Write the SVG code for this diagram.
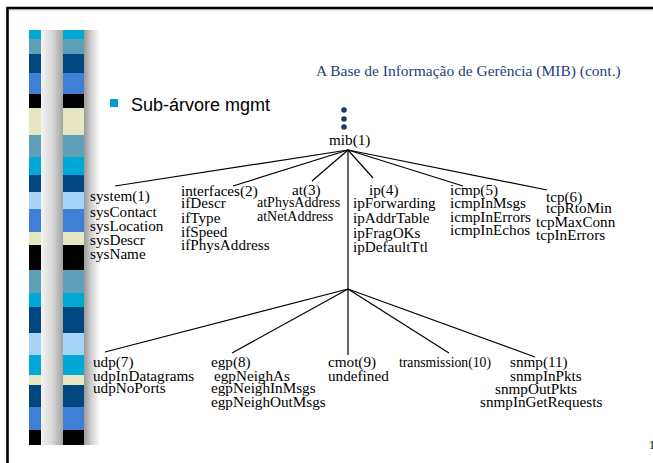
<svg xmlns="http://www.w3.org/2000/svg" width="653" height="463" viewBox="0 0 653 463">
<defs>
<linearGradient id="cyl1" x1="0" y1="0" x2="1" y2="0">
<stop offset="0" stop-color="#f4f4f4"/><stop offset="0.5" stop-color="#d8d8d8"/><stop offset="1" stop-color="#a4a4a4"/>
</linearGradient>
<linearGradient id="cyl2" x1="0" y1="0" x2="1" y2="0">
<stop offset="0" stop-color="#9a9a9a"/><stop offset="0.5" stop-color="#d4d4d4"/><stop offset="1" stop-color="#ffffff"/>
</linearGradient>
<style>
.t{font-family:"Liberation Serif","Times New Roman",serif;font-size:15.2px;fill:#000}
.s{font-size:14px}
.e{stroke:#000;stroke-width:1.2;fill:none}
</style>
</defs>
<rect width="653" height="463" fill="#fff"/>
<!-- frame -->
<path d="M7.5 463 V8 H653" fill="none" stroke="#000" stroke-width="2.6"/>
<path d="M9 9.8 H653" stroke="#999" stroke-width="0.8"/>
<!-- stripes -->
<g id="stripes">
<rect x="29" y="30" width="55" height="9" fill="#00a8d8"/>
<rect x="29" y="39" width="55" height="15" fill="#5fa0b8"/>
<rect x="29" y="54" width="55" height="19" fill="#00467f"/>
<rect x="29" y="73" width="55" height="21" fill="#3f7fd6"/>
<rect x="29" y="94" width="55" height="14" fill="#000"/>
<rect x="29" y="108" width="55" height="27" fill="#e6e6c3"/>
<rect x="29" y="135" width="55" height="22" fill="#5fa0b8"/>
<rect x="29" y="157" width="55" height="18" fill="#00a8d8"/>
<rect x="29" y="175" width="55" height="17" fill="#00467f"/>
<rect x="29" y="192" width="55" height="17" fill="#a8d4f8"/>
<rect x="29" y="209" width="55" height="23" fill="#3f7fd6"/>
<rect x="29" y="232" width="55" height="13" fill="#e6e6c3"/>
<rect x="29" y="245" width="55" height="25" fill="#000"/>
<rect x="29" y="270" width="55" height="23" fill="#5fa0b8"/>
<rect x="29" y="293" width="55" height="14" fill="#00a8d8"/>
<rect x="29" y="307" width="55" height="26" fill="#00467f"/>
<rect x="29" y="333" width="55" height="22" fill="#a8d4f8"/>
<rect x="29" y="355" width="55" height="20" fill="#00a8d8"/>
<rect x="29" y="375" width="55" height="10" fill="#e6e6c3"/>
<rect x="29" y="385" width="55" height="22" fill="#00467f"/>
<rect x="29" y="407" width="55" height="23" fill="#3f7fd6"/>
<rect x="29" y="430" width="55" height="15" fill="#000"/>
<rect x="41" y="30" width="22" height="415" fill="url(#cyl1)"/>
<rect x="84" y="30" width="16" height="415" fill="url(#cyl2)"/>
</g>
<!-- title -->
<text x="316" y="76" style="font-family:'Liberation Serif','Times New Roman',serif;font-size:15.5px;fill:#1f3f80">A Base de Informação de Gerência (MIB) (cont.)</text>
<rect x="110" y="99" width="8" height="8" fill="#00a0d0"/>
<text x="131" y="111" style="font-family:'Liberation Sans',Arial,sans-serif;font-size:18px;fill:#000">Sub-árvore mgmt</text>
<!-- connectors -->
<g id="connectors" class="e">
<line x1="348" y1="150" x2="115" y2="186"/>
<line x1="348" y1="150" x2="233" y2="186"/>
<line x1="348" y1="150" x2="312" y2="181"/>
<line x1="348" y1="150" x2="373" y2="178"/>
<line x1="348" y1="150" x2="463" y2="186"/>
<line x1="348" y1="150" x2="547" y2="190"/>
<line x1="348" y1="150" x2="348" y2="289"/>
<line x1="348" y1="289" x2="105" y2="352"/>
<line x1="348" y1="289" x2="232" y2="353"/>
<line x1="348" y1="289" x2="348" y2="355"/>
<line x1="348" y1="289" x2="449" y2="353"/>
<line x1="348" y1="289" x2="535" y2="357"/>
</g>
<!-- nodes -->
<g id="mib">
<circle cx="344" cy="110" r="2.8" fill="#1a3a6a"/>
<circle cx="344" cy="119" r="2.8" fill="#1a3a6a"/>
<circle cx="344" cy="127" r="2.8" fill="#1a3a6a"/>
<text class="t" x="329" y="145">mib(1)</text>
</g>
<g id="system" class="t">
<text x="90" y="201">system(1)</text>
<text x="90" y="217">sysContact</text>
<text x="90" y="231">sysLocation</text>
<text x="90" y="245">sysDescr</text>
<text x="90" y="259">sysName</text>
</g>
<g id="interfaces" class="t">
<text x="181" y="196">interfaces(2)</text>
<text x="181" y="208">ifDescr</text>
<text x="181" y="222.5">ifType</text>
<text x="181" y="236.5">ifSpeed</text>
<text x="181" y="250">ifPhysAddress</text>
</g>
<g id="at" class="t s">
<text x="292" y="195" style="font-size:15.2px">at(3)</text>
<text x="257" y="207">atPhysAddress</text>
<text x="257" y="221">atNetAddress</text>
</g>
<g id="ip" class="t">
<text x="369" y="195">ip(4)</text>
<text x="353" y="208">ipForwarding</text>
<text x="353" y="223">ipAddrTable</text>
<text x="353" y="237.5">ipFragOKs</text>
<text x="353" y="251.5">ipDefaultTtl</text>
</g>
<g id="icmp" class="t">
<text x="450" y="195">icmp(5)</text>
<text x="450" y="208">icmpInMsgs</text>
<text x="450" y="221.5">icmpInErrors</text>
<text x="450" y="235">icmpInEchos</text>
</g>
<g id="tcp" class="t">
<text x="546" y="201.5">tcp(6)</text>
<text x="546" y="213">tcpRtoMin</text>
<text x="536" y="227">tcpMaxConn</text>
<text x="536" y="240">tcpInErrors</text>
</g>
<g id="udp" class="t">
<text x="93" y="366.5">udp(7)</text>
<text x="93" y="381">udpInDatagrams</text>
<text x="93" y="393">udpNoPorts</text>
</g>
<g id="egp" class="t">
<text x="211" y="366.5">egp(8)</text>
<text x="214" y="381">egpNeighAs</text>
<text x="211" y="393">egpNeighInMsgs</text>
<text x="211" y="407">egpNeighOutMsgs</text>
</g>
<g id="cmot" class="t">
<text x="328" y="366.5">cmot(9)</text>
<text x="328" y="381">undefined</text>
</g>
<g id="transmission" class="t">
<text x="399" y="366.5" style="font-size:13.7px">transmission(10)</text>
</g>
<g id="snmp" class="t">
<text x="510" y="366.5">snmp(11)</text>
<text x="510" y="381">snmpInPkts</text>
<text x="495" y="394">snmpOutPkts</text>
<text x="480" y="407">snmpInGetRequests</text>
</g>
<text class="t" x="649" y="449" style="font-size:12px">1</text>
</svg>
